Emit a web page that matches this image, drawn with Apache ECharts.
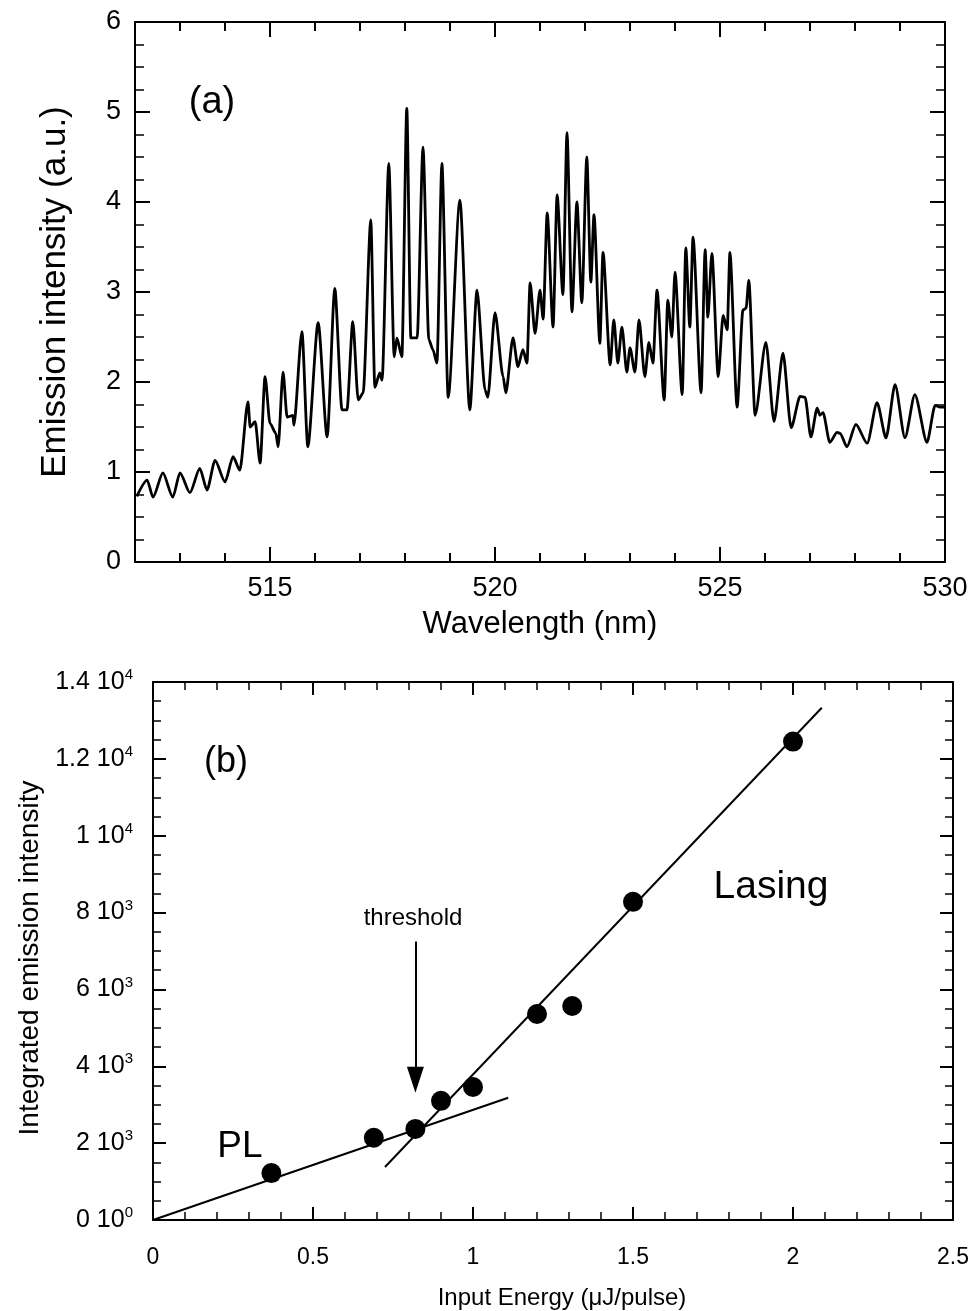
<!DOCTYPE html>
<html>
<head>
<meta charset="utf-8">
<script src="https://cdn.jsdelivr.net/npm/echarts@6.0.0/dist/echarts.min.js"></script>
<style>
  html, body { margin: 0; padding: 0; background: #fff; }
  #chart { width: 974px; height: 1311px; }
</style>
</head>
<body>
<div id="chart"></div>
<script>
// (a) emission spectrum
var wavelength = [
  512.04, 512.27, 512.40, 512.62, 512.84, 513.00, 513.22, 513.44, 513.60, 513.78,
  514.00, 514.18, 514.33, 514.51, 514.56, 514.67, 514.78, 514.89, 515.00, 515.13,
  515.18, 515.29, 515.38, 515.51, 515.53, 515.71, 515.84, 516.07, 516.27, 516.44,
  516.60, 516.71, 516.84, 516.96, 517.07, 517.24, 517.33, 517.44, 517.49, 517.64,
  517.76, 517.82, 517.93, 518.04, 518.13, 518.27, 518.40, 518.53, 518.62, 518.71,
  518.82, 518.96, 519.22, 519.44, 519.60, 519.78, 519.84, 520.00, 520.18, 520.24,
  520.40, 520.51, 520.62, 520.71, 520.78, 520.89, 521.00, 521.07, 521.16, 521.29,
  521.38, 521.51, 521.60, 521.71, 521.82, 521.93, 522.04, 522.13, 522.20, 522.33,
  522.40, 522.56, 522.64, 522.73, 522.82, 522.93, 523.00, 523.11, 523.20, 523.33,
  523.42, 523.51, 523.60, 523.76, 523.84, 523.93, 524.00, 524.16, 524.24, 524.33,
  524.40, 524.58, 524.67, 524.73, 524.82, 524.96, 525.07, 525.16, 525.22, 525.38,
  525.51, 525.58, 525.64, 525.78, 526.02, 526.20, 526.40, 526.58, 526.78, 526.89,
  527.02, 527.16, 527.22, 527.29, 527.44, 527.60, 527.67, 527.82, 528.02, 528.27,
  528.49, 528.69, 528.89, 529.11, 529.33, 529.60, 529.78, 529.89, 530.00
];
var intensity = [
  0.73, 0.91, 0.72, 0.99, 0.72, 0.99, 0.77, 1.04, 0.80, 1.13,
  0.89, 1.17, 1.02, 1.78, 1.50, 1.56, 1.10, 2.06, 1.54, 1.43,
  1.28, 2.11, 1.61, 1.63, 1.52, 2.56, 1.28, 2.66, 1.39, 3.04,
  1.69, 1.69, 2.67, 1.80, 1.88, 3.80, 1.94, 2.10, 2.02, 4.43,
  2.28, 2.49, 2.28, 5.04, 2.49, 2.49, 4.61, 2.47, 2.36, 2.21,
  4.43, 1.83, 4.02, 1.69, 3.02, 1.91, 1.83, 2.77, 2.06, 1.88,
  2.49, 2.17, 2.36, 2.21, 3.10, 2.54, 3.02, 2.70, 3.88, 2.61,
  4.08, 2.97, 4.77, 2.78, 4.00, 2.88, 4.50, 3.11, 3.86, 2.43,
  3.44, 2.19, 2.69, 2.21, 2.61, 2.11, 2.38, 2.11, 2.69, 2.06,
  2.44, 2.21, 3.02, 1.80, 2.91, 2.50, 3.22, 1.86, 3.49, 2.61,
  3.61, 1.88, 3.47, 2.72, 3.43, 2.06, 2.74, 2.58, 3.44, 1.72,
  2.80, 2.82, 3.13, 1.63, 2.44, 1.56, 2.32, 1.49, 1.84, 1.83,
  1.39, 1.71, 1.63, 1.66, 1.33, 1.44, 1.43, 1.28, 1.53, 1.32,
  1.77, 1.38, 1.97, 1.38, 1.86, 1.33, 1.74, 1.72, 1.72
];

// (b) integrated emission vs pump energy
var energy = [0.37, 0.69, 0.82, 0.90, 1.00, 1.20, 1.31, 1.50, 2.00];
var integrated = [1220, 2140, 2370, 3100, 3460, 5360, 5570, 8280, 12450];

// fitted lines
var plFitX = [0, 1.11];
var plFitY = [0, 3180];
var lasingFitX = [0.725, 2.09];
var lasingFitY = [1380, 13330];

// threshold arrow (x, y from, y to)
var arrowX = 0.82;
var arrowY = [7250, 3650];

var FONT = 'Liberation Sans, Arial, sans-serif';

function pairs(xs, ys) {
  return xs.map(function (x, i) { return [x, ys[i]]; });
}

function sciLabel(v) {
  if (v === 0) return '{m|0 10}{e|0}';
  var exp = v >= 10000 ? 4 : 3;
  var m = +(v / Math.pow(10, exp)).toFixed(1);
  return '{m|' + m + ' 10}{e|' + exp + '}';
}

// onZero off, otherwise the mirrored top/right axes get pulled onto the zero line
function line(show) {
  return { show: show, onZero: false, lineStyle: { color: '#000', width: 2 } };
}
function tick(len) {
  return { show: true, inside: true, length: len, lineStyle: { color: '#000', width: 2 } };
}
function minor(n, len) {
  return { show: true, splitNumber: n, length: len, lineStyle: { color: '#000', width: 1.5 } };
}

var myChart = echarts.init(document.getElementById('chart'));

var option = {
  animation: false,
  backgroundColor: '#fff',
  grid: [
    { left: 135, top: 22, width: 810, height: 540 },
    { left: 270, top: 22, width: 675, height: 540 },
    { left: 153, top: 682, width: 800, height: 538 }
  ],
  xAxis: [
    {
      type: 'value', gridIndex: 0, position: 'bottom', min: 512, max: 530, interval: 1,
      axisLine: line(true), axisTick: tick(9), splitLine: { show: false },
      axisLabel: {
        margin: 13, fontSize: 27, fontFamily: FONT, color: '#000',
        formatter: function (v) { return v % 5 === 0 ? String(v) : ''; }
      },
      name: 'Wavelength (nm)', nameLocation: 'middle', nameGap: 47,
      nameTextStyle: { fontSize: 31, fontFamily: FONT, color: '#000' }
    },
    {
      type: 'value', gridIndex: 0, position: 'top', min: 512, max: 530, interval: 1,
      axisLine: line(true), axisTick: tick(9), axisLabel: { show: false }, splitLine: { show: false }
    },
    {
      type: 'value', gridIndex: 1, position: 'bottom', min: 515, max: 530, interval: 5,
      axisLine: line(false), axisTick: tick(15), axisLabel: { show: false }, splitLine: { show: false }
    },
    {
      type: 'value', gridIndex: 1, position: 'top', min: 515, max: 530, interval: 5,
      axisLine: line(false), axisTick: tick(15), axisLabel: { show: false }, splitLine: { show: false }
    },
    {
      type: 'value', gridIndex: 2, position: 'bottom', min: 0, max: 2.5, interval: 0.5,
      axisLine: line(true), axisTick: tick(13), minorTick: minor(5, 8), splitLine: { show: false },
      axisLabel: { margin: 26, fontSize: 23, fontFamily: FONT, color: '#000' },
      name: 'Input Energy (\u03bcJ/pulse)', nameLocation: 'middle', nameGap: 66,
      nameTextStyle: { fontSize: 24, fontFamily: FONT, color: '#000', padding: [0, 0, 0, 18] }
    },
    {
      type: 'value', gridIndex: 2, position: 'top', min: 0, max: 2.5, interval: 0.5,
      axisLine: line(true), axisTick: tick(13), minorTick: minor(5, 8),
      axisLabel: { show: false }, splitLine: { show: false }
    }
  ],
  yAxis: [
    {
      type: 'value', gridIndex: 0, position: 'left', min: 0, max: 6, interval: 1,
      axisLine: line(true), axisTick: tick(15), minorTick: minor(4, 9), splitLine: { show: false },
      axisLabel: { margin: 14, fontSize: 27, fontFamily: FONT, color: '#000' },
      name: 'Emission intensity (a.u.)', nameLocation: 'middle', nameGap: 62,
      nameTextStyle: { fontSize: 35, fontFamily: FONT, color: '#000' }
    },
    {
      type: 'value', gridIndex: 0, position: 'right', min: 0, max: 6, interval: 1,
      axisLine: line(true), axisTick: tick(15), minorTick: minor(4, 9),
      axisLabel: { show: false }, splitLine: { show: false }
    },
    { type: 'value', gridIndex: 1, min: 0, max: 6, show: false },
    {
      type: 'value', gridIndex: 2, position: 'left', min: 0, max: 14000, interval: 2000,
      axisLine: line(true), axisTick: tick(13), minorTick: minor(4, 8), splitLine: { show: false },
      axisLabel: {
        margin: 20, color: '#000', formatter: sciLabel,
        rich: {
          m: { fontSize: 25, fontFamily: FONT, color: '#000', lineHeight: 29 },
          e: { fontSize: 15, fontFamily: FONT, color: '#000', lineHeight: 15, verticalAlign: 'top' }
        }
      },
      name: 'Integrated emission intensity', nameLocation: 'middle', nameGap: 104,
      nameTextStyle: { fontSize: 28, fontFamily: FONT, color: '#000', padding: [0, 14, 0, 0] }
    },
    {
      type: 'value', gridIndex: 2, position: 'right', min: 0, max: 14000, interval: 2000,
      axisLine: line(true), axisTick: tick(13), minorTick: minor(4, 8),
      axisLabel: { show: false }, splitLine: { show: false }
    }
  ],
  series: [
    {
      name: 'spectrum', type: 'line', xAxisIndex: 0, yAxisIndex: 0,
      data: pairs(wavelength, intensity), symbol: 'none',
      smooth: 0.25, smoothMonotone: 'x',
      lineStyle: { color: '#000', width: 2.8 }
    },
    {
      name: 'PL fit', type: 'line', xAxisIndex: 4, yAxisIndex: 3,
      data: pairs(plFitX, plFitY), symbol: 'none',
      lineStyle: { color: '#000', width: 2 },
      markLine: {
        silent: true, symbol: ['none', 'triangle'], symbolSize: [17, 26],
        label: { show: false },
        lineStyle: { color: '#000', width: 2, type: 'solid' },
        data: [[{ coord: [arrowX, arrowY[0]] }, { coord: [arrowX, arrowY[1]] }]]
      }
    },
    {
      name: 'lasing fit', type: 'line', xAxisIndex: 4, yAxisIndex: 3,
      data: pairs(lasingFitX, lasingFitY), symbol: 'none',
      lineStyle: { color: '#000', width: 2 }
    },
    {
      name: 'data', type: 'scatter', xAxisIndex: 4, yAxisIndex: 3,
      data: pairs(energy, integrated), symbolSize: 20,
      itemStyle: { color: '#000', opacity: 1 }
    }
  ],
  graphic: [
    { type: 'text', x: 212, y: 103, style: { text: '(a)', font: '38px ' + FONT, fill: '#000', textAlign: 'center', textVerticalAlign: 'middle' } },
    { type: 'text', x: 226, y: 762, style: { text: '(b)', font: '36px ' + FONT, fill: '#000', textAlign: 'center', textVerticalAlign: 'middle' } },
    { type: 'text', x: 771, y: 887, style: { text: 'Lasing', font: '39px ' + FONT, fill: '#000', textAlign: 'center', textVerticalAlign: 'middle' } },
    { type: 'text', x: 240, y: 1147, style: { text: 'PL', font: '37px ' + FONT, fill: '#000', textAlign: 'center', textVerticalAlign: 'middle' } },
    { type: 'text', x: 413, y: 918, style: { text: 'threshold', font: '24px ' + FONT, fill: '#000', textAlign: 'center', textVerticalAlign: 'middle' } }
  ]
};

myChart.setOption(option);
</script>
</body>
</html>
